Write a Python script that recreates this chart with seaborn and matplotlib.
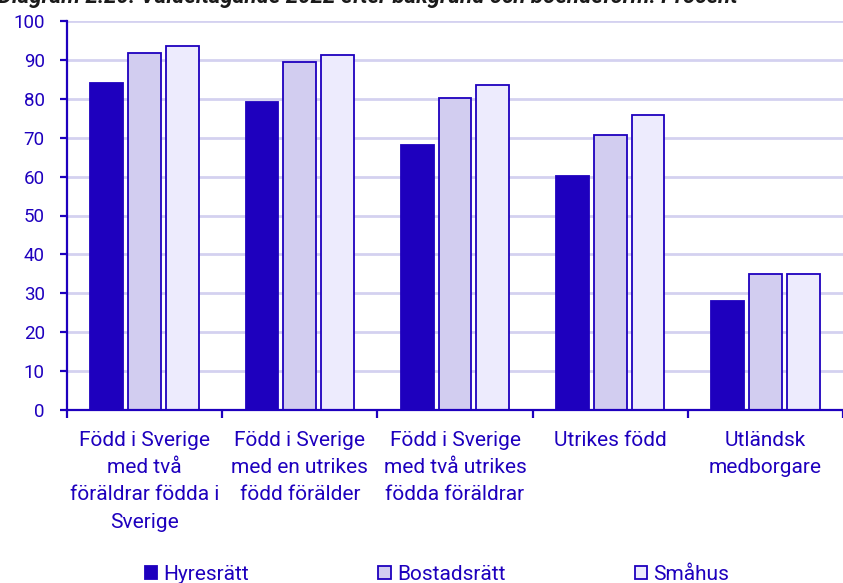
import matplotlib
matplotlib.use("Agg")
import matplotlib.pyplot as plt
import seaborn as sns
import pandas as pd
import numpy as np
from matplotlib.patches import Patch

categories = ["Född i Sverige\nmed två\nföräldrar födda i\nSverige",
              "Född i Sverige\nmed en utrikes\nfödd förälder",
              "Född i Sverige\nmed två utrikes\nfödda föräldrar",
              "Utrikes född",
              "Utländsk\nmedborgare"]
series = ["Hyresrätt", "Bostadsrätt", "Småhus"]
hyresratt = [84.1, 79.3, 68.1, 60.2, 27.9]
bostadsratt = [91.8, 89.4, 80.2, 70.8, 35.0]
smahus = [93.5, 91.2, 83.6, 75.8, 35.0]
yticks = list(range(0, 101, 10))
title = "Diagram 2.20: Valdeltagande 2022 efter bakgrund och boendeform. Procent"

DARK = "#1E00BE"
MID = "#D2CDF0"
LIGHT = "#EDEBFD"
GRID = "#D4D1F0"

df = pd.DataFrame({
    "Kategori": categories * 3,
    "Boendeform": [series[0]] * 5 + [series[1]] * 5 + [series[2]] * 5,
    "Procent": hyresratt + bostadsratt + smahus,
})

sns.set_theme(style="white")
plt.rcParams['font.family'] = ['Roboto', 'DejaVu Sans']

fig = plt.figure(figsize=(8.43, 5.83), dpi=100)
ax = fig.add_axes([67 / 843, 1 - 410 / 583, 1 - 67 / 843, (410 - 21) / 583])

palette = {series[0]: DARK, series[1]: MID, series[2]: LIGHT}
sns.barplot(data=df, x="Kategori", y="Procent", hue="Boendeform", order=categories,
            hue_order=series, palette=palette, saturation=1, width=0.73, gap=0.13,
            edgecolor=DARK, linewidth=1.3, ax=ax, legend=False, zorder=3)

ax.set_xlim(-0.5, 4.5)
ax.set_ylim(0, 100)
ax.set_yticks(yticks)
ax.set_yticklabels([str(t) for t in yticks])
ax.yaxis.grid(True, color=GRID, linewidth=2, zorder=0)
ax.set_axisbelow(True)
ax.set_xlabel("")
ax.set_ylabel("")

for s in ["top", "right"]:
    ax.spines[s].set_visible(False)
for s in ["left", "bottom"]:
    ax.spines[s].set_color(DARK)
    ax.spines[s].set_linewidth(1.6)
    ax.spines[s].set_zorder(5)

ax.tick_params(axis="y", which="major", length=5, width=1.6, color=DARK,
               labelcolor=DARK, labelsize=13.5, direction="out", pad=11, left=True)
ax.tick_params(axis="x", which="major", length=0, labelcolor=DARK, labelsize=15, pad=15)
ax.set_xticks(np.arange(-0.5, 5.0, 1.0), minor=True)
ax.tick_params(axis="x", which="minor", length=6, width=1.6, color=DARK, direction="out", bottom=True)
for lab in ax.get_xticklabels():
    lab.set_linespacing(1.55)

handles = [Patch(facecolor=palette[s], edgecolor=DARK, linewidth=1.3, label=s) for s in series]
fig.legend(handles=handles, loc="center", bbox_to_anchor=(437 / 843, 1 - 574 / 583),
           ncol=3, frameon=False, fontsize=15, labelcolor=DARK,
           handlelength=0.6, handleheight=0.6, handletextpad=0.3, columnspacing=6.2,
           borderaxespad=0, borderpad=0)

fig.text(-0.002, 1 - 3 / 583, title, ha="left", va="baseline", fontsize=16,
         fontweight="bold", fontstyle="italic", color="#1a1a1a")

fig.savefig("out.png", dpi=100)
